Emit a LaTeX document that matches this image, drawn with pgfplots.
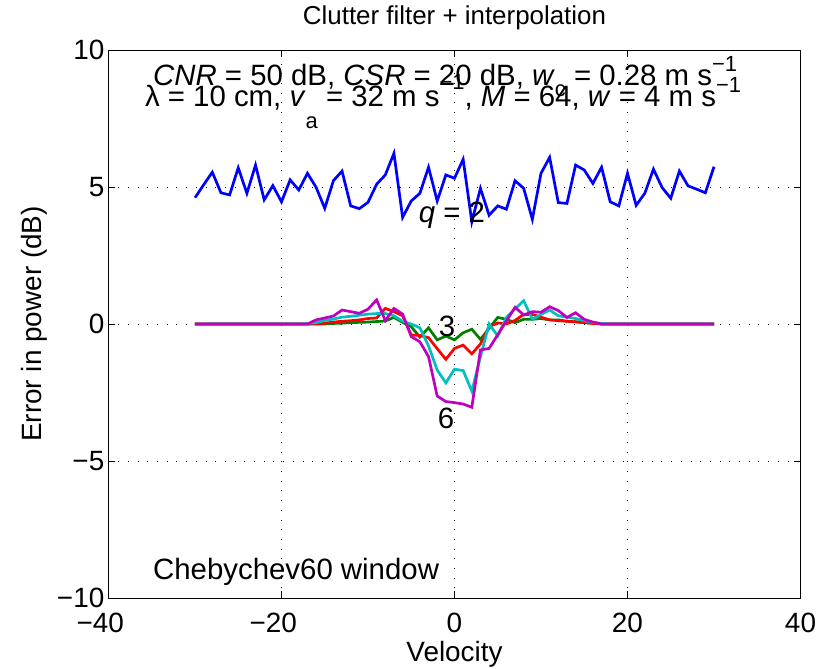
\documentclass[border=0pt]{standalone}
\usepackage{fontspec}
\setmainfont{Liberation Sans}
\usepackage{pgfplots}
\usepackage{pgfplotstable}
\pgfplotsset{compat=1.18}
\definecolor{mblue}{rgb}{0,0,1}
\definecolor{mgreen}{rgb}{0,0.5,0}
\definecolor{mred}{rgb}{1,0,0}
\definecolor{mcyan}{rgb}{0,0.75,0.75}
\definecolor{mmag}{rgb}{0.75,0,0.75}
\newcommand{\F}{\fontsize{26}{30}\selectfont}
\newcommand{\FT}{\fontsize{28}{32}\selectfont}
\newcommand{\FA}{\fontsize{29.5}{34}\selectfont}
\newcommand{\Fs}{\fontsize{22}{26}\selectfont}

\pgfplotstableread{
x b g r c m
-30 4.61 0 0 0 0
-29 5.08 0 0 0 0
-28 5.54 0 0 0 0
-27 4.79 0 0 0 0
-26 4.71 0 0 0 0
-25 5.70 0 0 0 0
-24 4.77 0 0 0 0
-23 5.80 0 0 0 0
-22 4.53 0 0 0 0
-21 5.05 0 0 0 0
-20 4.46 0 0 0 0
-19 5.26 0 0 0 0
-18 4.89 0 0 0 0
-17 5.50 0 0 0.02 0
-16 4.99 0 0.01 0.05 0.15
-15 4.22 0 0.03 0.13 0.22
-14 5.23 0.02 0.07 0.18 0.29
-13 5.58 0.03 0.10 0.25 0.51
-12 4.31 0.05 0.12 0.28 0.45
-11 4.21 0.06 0.15 0.32 0.39
-10 4.44 0.07 0.20 0.36 0.54
-9 5.10 0.09 0.22 0.38 0.88
-8 5.44 0.11 0.57 0.38 0.12
-7 6.23 0.24 0.45 0.30 0.57
-6 3.89 0.06 0.30 0.10 0.36
-5 4.49 -0.10 -0.40 0.00 -0.46
-4 4.77 -0.48 -0.42 -0.14 -0.65
-3 5.72 -0.14 -0.50 -0.80 -1.19
-2 4.49 -0.58 -0.90 -1.68 -2.63
-1 5.44 -0.44 -1.29 -2.15 -2.83
0 5.32 -0.58 -0.89 -1.65 -2.87
1 6.01 -0.32 -0.77 -1.70 -2.92
2 3.73 -0.19 -1.09 -2.45 -3.04
3 4.95 -0.56 -0.73 -1.20 -0.95
4 3.97 -0.16 -0.10 0.00 -0.89
5 4.31 0.24 0.04 -0.44 -0.39
6 4.19 0.17 0.00 0.24 0.11
7 5.23 0.05 0.13 0.55 0.61
8 4.95 0.17 0.35 0.85 0.33
9 3.82 0.17 0.35 0.17 0.45
10 5.50 0.20 0.25 0.35 0.43
11 6.08 0.15 0.15 0.51 0.63
12 4.43 0.15 0.12 0.30 0.49
13 4.40 0.10 0.10 0.25 0.24
14 5.80 0.08 0.08 0.20 0.41
15 5.62 0.05 0.05 0.12 0.17
16 5.13 0.03 0.02 0.06 0.07
17 5.72 0 0 0.02 0
18 4.46 0 0 0 0
19 4.31 0 0 0 0
20 5.50 0 0 0 0
21 4.33 0 0 0 0
22 4.77 0 0 0 0
23 5.65 0 0 0 0
24 4.98 0 0 0 0
25 4.59 0 0 0 0
26 5.58 0 0 0 0
27 5.04 0 0 0 0
28 4.92 0 0 0 0
29 4.79 0 0 0 0
30 5.74 0 0 0 0
}\datatable

\begin{document}
\begin{tikzpicture}
\begin{axis}[
  at={(0,0)}, anchor=south west,
  scale only axis, width=692bp, height=548bp,
  xmin=-40, xmax=40, ymin=-10, ymax=10,
  xtick={-40,-20,0,20,40},
  xticklabels={\llap{−}40,\llap{−}20,0,20,40},
  ytick={-10,-5,0,5,10},
  yticklabels={−10,−5,0,5,10},
  tick align=inside,
  major tick length=7bp,
  grid=major,
  major grid style={black, line width=0.9bp, dash pattern=on 0.9bp off 8.8bp},
  axis line style={black, line width=0.9bp},
  every tick/.style={black, line width=0.9bp},
  tick label style={font=\FT},
  xticklabel style={anchor=base, inner sep=0pt, yshift=-34bp},
  yticklabel style={anchor=east, inner sep=0pt, xshift=-4bp},
  title={Clutter filter + interpolation},
  title style={font=\F, at={(axis description cs:0.5,1)}, anchor=base, yshift=20bp, inner sep=0pt},
  xlabel={Velocity},
  xlabel style={font=\FT, at={(axis description cs:0.5,0)}, anchor=base, yshift=-63bp, inner sep=0pt},
  ylabel={Error in power (dB)},
  ylabel style={font=\FT, at={(axis description cs:-0.097,0.5)}, anchor=base, inner sep=0pt},
  clip=false,
]
\addplot[mblue, line width=2.7bp] table[x=x, y=b] {\datatable};
\addplot[mgreen, line width=2.7bp] table[x=x, y=g] {\datatable};
\addplot[mred, line width=2.7bp] table[x=x, y=r] {\datatable};
\addplot[mcyan, line width=2.7bp] table[x=x, y=c] {\datatable};
\addplot[mmag, line width=2.7bp] table[x=x, y=m] {\datatable};

\node[anchor=base west, inner sep=0pt, font=\FA] at (axis cs:-34.86,8.7)
  {\textit{CNR} = 50 dB, \textit{CSR} = 20 dB, \textit{w}\raisebox{-11bp}{\Fs c} = 0.28 m s\raisebox{14bp}{\Fs −1}};
\node[anchor=base west, inner sep=0pt, font=\FA] at (axis cs:-35.8,7.95)
  {λ = 10 cm, \textit{v}\raisebox{-22bp}{\Fs a} = 32 m s\raisebox{17bp}{\Fs −1}, \textit{M} = 64, \textit{w} = 4 m s\raisebox{14bp}{\Fs −1}};
\node[inner sep=0pt, font=\FA] at (axis cs:-0.29,3.98) {\textit{q} = 2};
\node[inner sep=0pt, font=\FA] at (axis cs:-0.87,-0.07) {3};
\node[inner sep=0pt, font=\FA] at (axis cs:-0.98,-3.43) {6};
\node[anchor=base west, inner sep=0pt, font=\FA] at (axis cs:-34.86,-9.34) {Chebychev60 window};
\end{axis}
\pgfresetboundingbox
\path[use as bounding box] (-108.5bp,-71bp) rectangle (712.5bp,598bp);
\end{tikzpicture}
\end{document}
